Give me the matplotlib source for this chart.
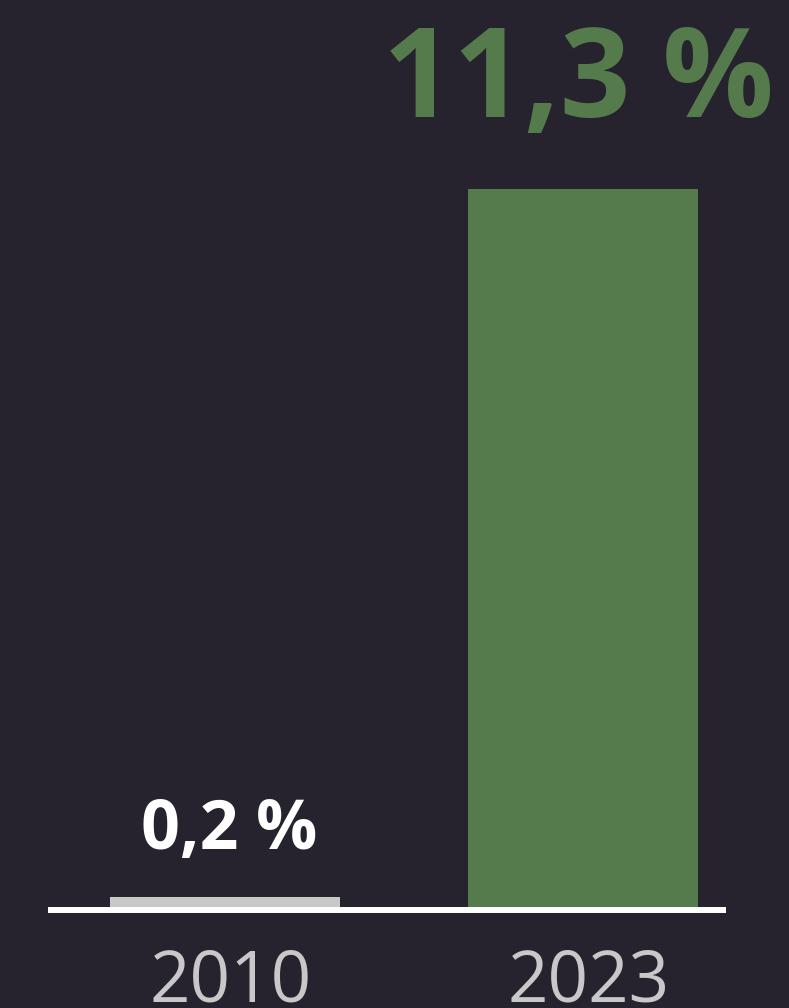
import matplotlib.pyplot as plt
from matplotlib.transforms import ScaledTranslation

years = ["2010", "2023"]
shares = [0.2, 11.3]
value_labels = ["0,2 %", "11,3 %"]

BG = "#26232e"
GREEN = "#557a4b"
GREY = "#c8c8c8"

plt.rcParams["font.family"] = ["Open Sans", "DejaVu Sans"]

fig = plt.figure(figsize=(7.89, 10.08), dpi=100, facecolor=BG)
ax = fig.add_axes([48 / 789, 98 / 1008, 678 / 789, 910 / 1008])
ax.set_facecolor(BG)

x = list(range(len(years)))
bar_colors = [GREY, GREEN]
ax.bar(x, shares, width=0.642, color=bar_colors, zorder=1)

ax.set_xlim(-0.494, 1.40)
ax.set_ylim(0, 14.26)

for s in ["top", "left", "right"]:
    ax.spines[s].set_visible(False)
ax.spines["bottom"].set_color("white")
ax.spines["bottom"].set_linewidth(4.3)
ax.spines["bottom"].set_capstyle("butt")
ax.spines["bottom"].set_zorder(3)

ax.set_yticks([])
ax.set_xticks(x)
ax.set_xticklabels(years, fontsize=51, color=GREY)
ax.tick_params(axis="x", length=0, pad=27)
shift = ScaledTranslation(6 / 100, 0, fig.dpi_scale_trans)
for lab in ax.get_xticklabels():
    lab.set_transform(lab.get_transform() + shift)

# value labels: small one in white, the big one in bar colour
label_styles = [dict(color="white", fontsize=49, off=(3, 35)),
                dict(color=GREEN, fontsize=89, off=(-3, 52))]
for xi, val, txt, st in zip(x, shares, value_labels, label_styles):
    ax.annotate(txt, (xi, val), xytext=st["off"], textcoords="offset points",
                ha="center", va="baseline", fontsize=st["fontsize"],
                fontweight="bold", color=st["color"], annotation_clip=False)

fig.savefig("out.png", dpi=100, facecolor=BG)
